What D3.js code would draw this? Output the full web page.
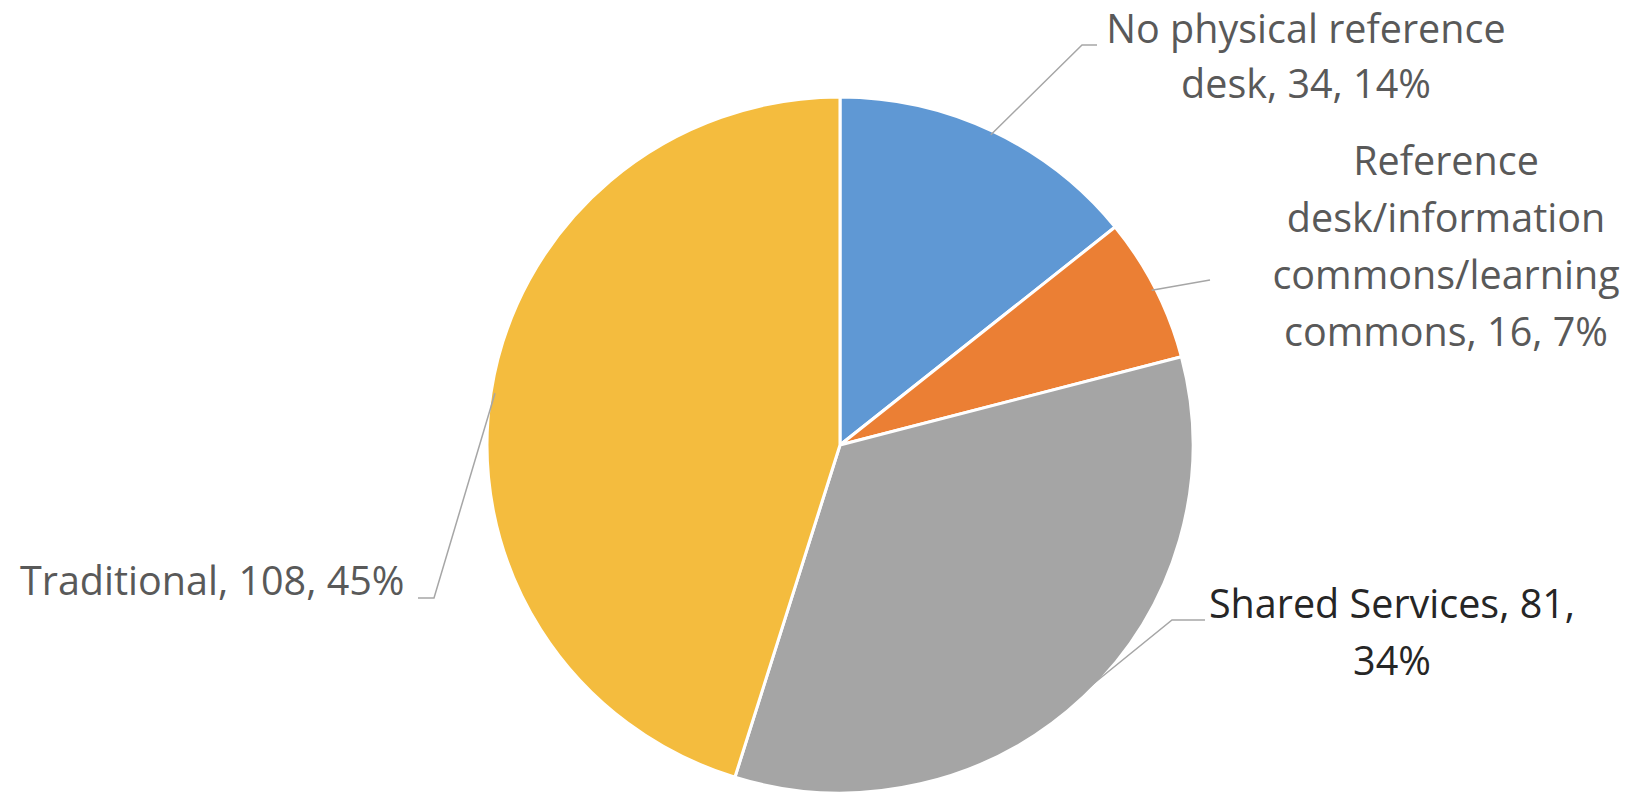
<!DOCTYPE html>
<html><head><meta charset="utf-8">
<script src="https://cdn.jsdelivr.net/npm/d3@7"></script>
<style>html,body{margin:0;padding:0;background:#fff;overflow:hidden}</style>
</head><body>
<svg id="chart" width="1638" height="801"></svg>
<script>
const categories = ["No physical reference desk", "Reference desk/information commons/learning commons", "Shared Services", "Traditional"];
const values = [34, 16, 81, 108];
const percents = ["14%", "7%", "34%", "45%"];
const colors = ["#5F98D4", "#EB7F34", "#A5A5A5", "#F4BC3E"];
// label text lines
const labelLines = [
  ["No physical reference", "desk, 34, 14%"],
  ["Reference", "desk/information", "commons/learning", "commons, 16, 7%"],
  ["Shared Services, 81,", "34%"],
  ["Traditional, 108, 45%"]
];
// label layout: center x, first baseline, line height, leader elbow points
const labelLayout = [
  {x: 1306, y: 43, lh: 55, anchor: "middle", color: "#595959", leader: [[1082, 45], [1097, 45]]},
  {x: 1446, y: 175, lh: 57, anchor: "middle", color: "#595959", leader: [[1210, 280]]},
  {x: 1392, y: 618, lh: 57, anchor: "middle", color: "#262626", leader: [[1172, 620], [1205, 620]]},
  {x: 20, y: 595, lh: 57, anchor: "start", color: "#595959", leader: [[434, 598], [418, 598]]}
];

const svg = d3.select("#chart");
const cx = 840, cy = 445, ry = 348, rx = 353;
const sx = rx / ry;
const pie = d3.pie().sort(null).value(d => d)(values);
const arc = d3.arc().innerRadius(0).outerRadius(ry);

const g = svg.append("g").attr("transform", `translate(${cx},${cy}) scale(${sx},1)`);
g.selectAll("path").data(pie).join("path")
  .attr("d", arc)
  .attr("fill", (d, i) => colors[i])
  .attr("stroke", "#fff")
  .attr("stroke-width", 3)
  .attr("stroke-linejoin", "round");

const lineGen = d3.line();
pie.forEach((d, i) => {
  const a = (d.startAngle + d.endAngle) / 2;
  const p0 = [cx + (rx - 4) * Math.sin(a), cy - (ry - 4) * Math.cos(a)];
  const pts = [p0].concat(labelLayout[i].leader);
  svg.append("path").attr("d", lineGen(pts))
    .attr("fill", "none").attr("stroke", "#A6A6A6").attr("stroke-width", 1.5);
});

labelLines.forEach((lines, i) => {
  const L = labelLayout[i];
  const t = svg.append("text")
    .attr("text-anchor", L.anchor)
    .attr("font-family", "'Open Sans', 'Noto Sans', sans-serif")
    .attr("font-size", 39.5)
    .attr("fill", L.color);
  lines.forEach((s, j) => {
    t.append("tspan").attr("x", L.x).attr("y", L.y + j * L.lh).text(s);
  });
});
</script>
</body></html>
